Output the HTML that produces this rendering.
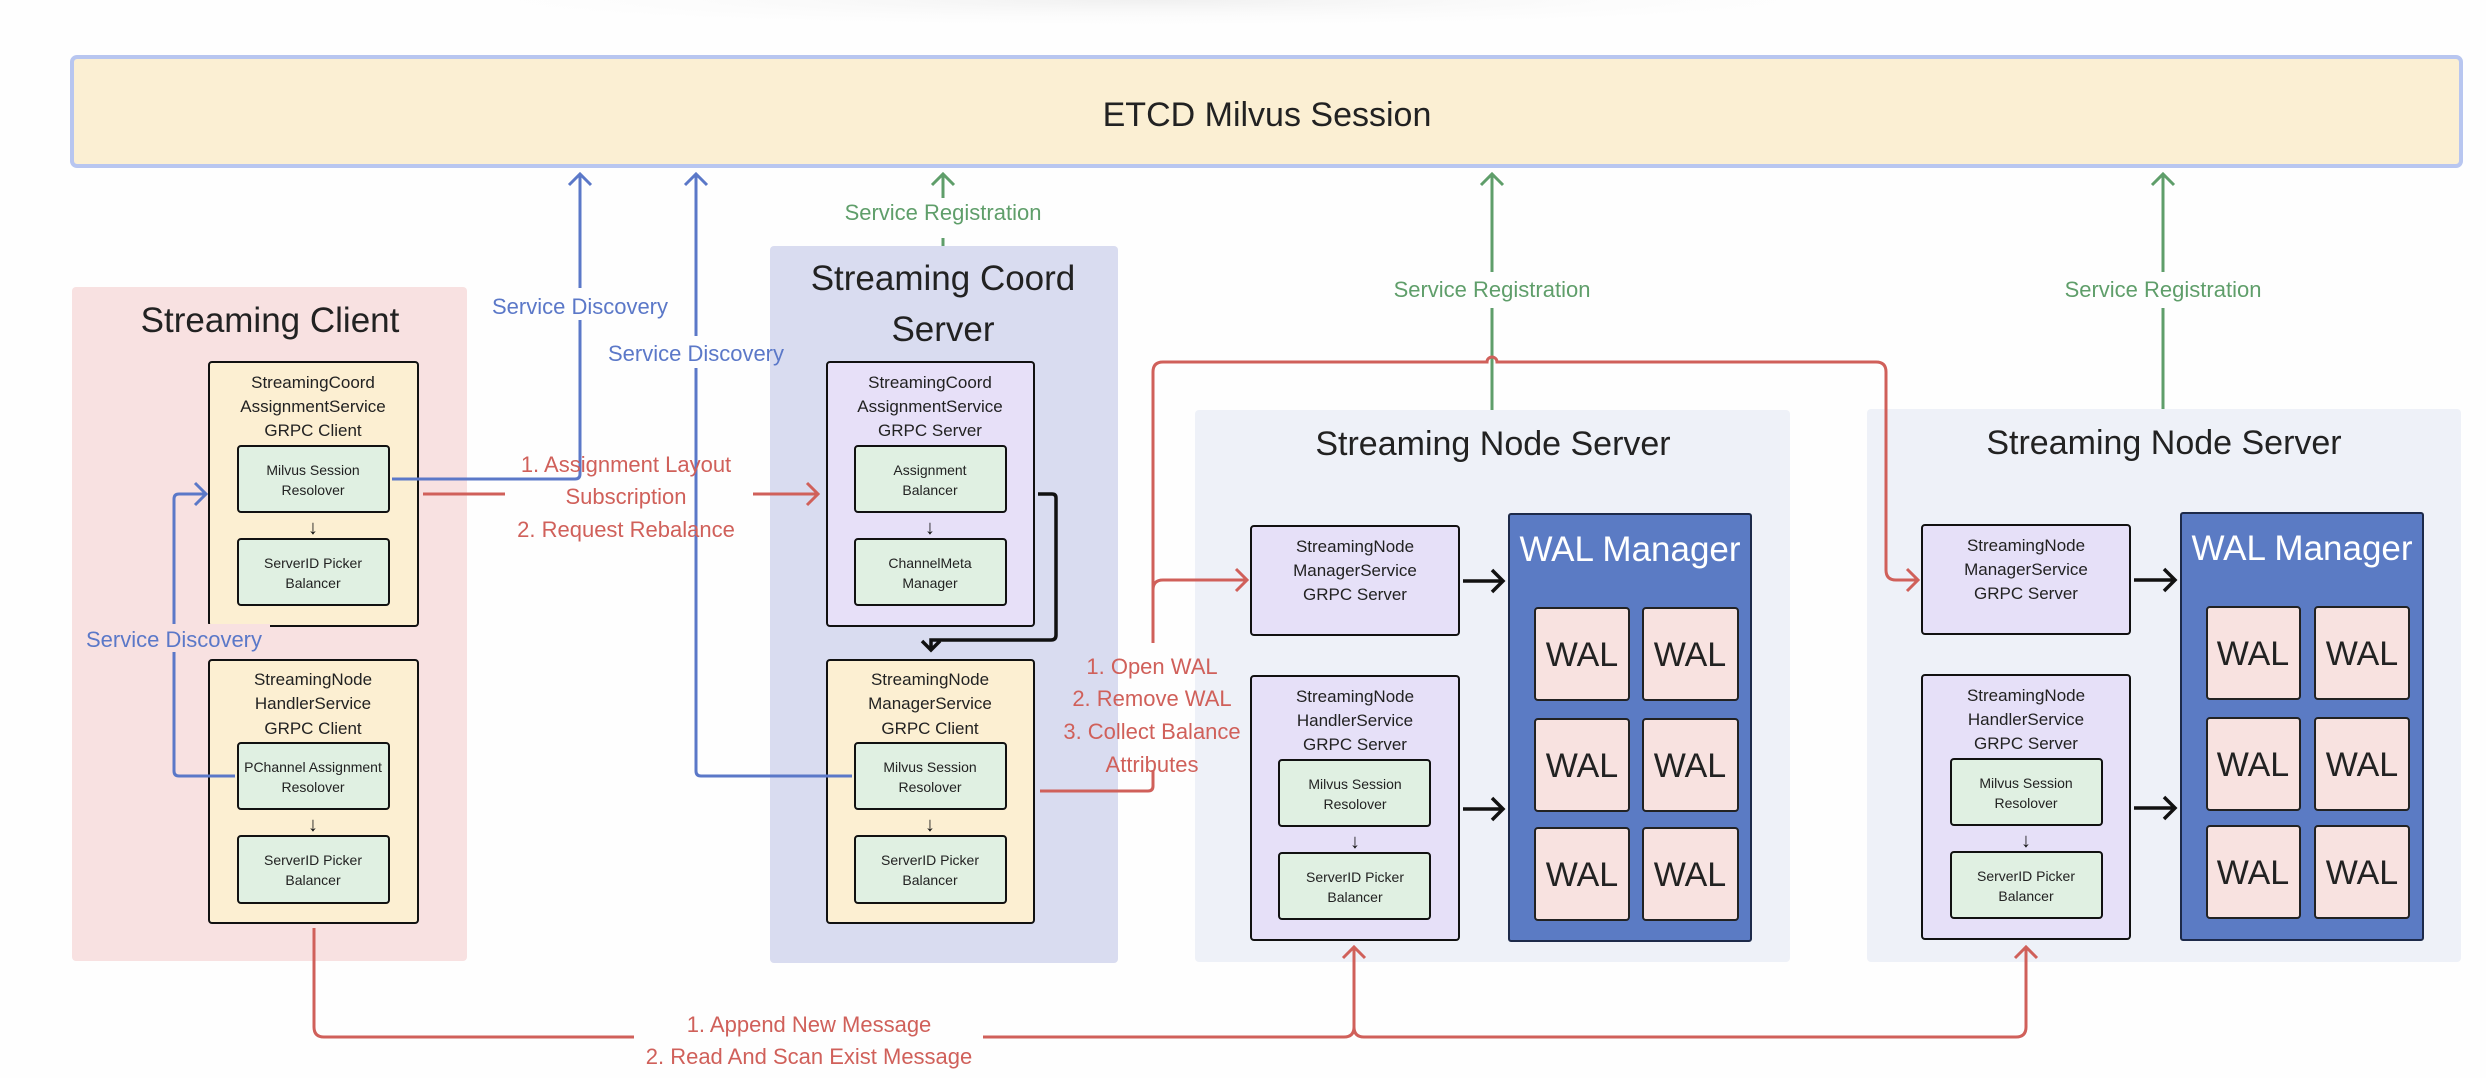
<!DOCTYPE html>
<html><head><meta charset="utf-8"><style>
html,body{margin:0;padding:0;background:#fefefe;}
svg{display:block}
text{font-family:"Liberation Sans",sans-serif;}
</style></head><body>
<svg width="2486" height="1078" viewBox="0 0 2486 1078" xmlns="http://www.w3.org/2000/svg">
<defs>
<radialGradient id="sh" cx="0.5" cy="0" r="0.6"><stop offset="0" stop-color="#f0f0f0"/><stop offset="1" stop-color="#fefefe" stop-opacity="0"/></radialGradient>
</defs>
<rect x="500" y="0" width="1300" height="50" fill="url(#sh)"/>
<!-- ETCD -->
<rect x="72" y="57" width="2389" height="109" rx="5" fill="#fbefd3" stroke="#b8c6f0" stroke-width="4"/>
<text x="1267" y="126" font-size="34" text-anchor="middle" fill="#222">ETCD Milvus Session</text>

<!-- containers -->
<rect x="72" y="287" width="395" height="674" rx="4" fill="#f8e1e1"/>
<text x="270" y="332" font-size="35" text-anchor="middle" fill="#222">Streaming Client</text>
<rect x="770" y="246" width="348" height="717" rx="4" fill="#d9dcf0"/>
<text x="943" y="290" font-size="35" text-anchor="middle" fill="#222">Streaming Coord</text>
<text x="943" y="341" font-size="35" text-anchor="middle" fill="#222">Server</text>
<rect x="1195" y="410" width="595" height="552" rx="4" fill="#eef1f8"/>
<text x="1493" y="455" font-size="34" text-anchor="middle" fill="#222">Streaming Node Server</text>
<rect x="1867" y="409" width="594" height="553" rx="4" fill="#eef1f8"/>
<text x="2164" y="454" font-size="34" text-anchor="middle" fill="#222">Streaming Node Server</text>

<g font-size="17" text-anchor="middle" fill="#222">
<rect x="209" y="362" width="209" height="264" rx="3" fill="#fcefd2" stroke="#111" stroke-width="2"/>
<text x="313" y="388">StreamingCoord</text><text x="313" y="412">AssignmentService</text><text x="313" y="436">GRPC Client</text>
<rect x="209" y="660" width="209" height="263" rx="3" fill="#fcefd2" stroke="#111" stroke-width="2"/>
<text x="313" y="685">StreamingNode</text><text x="313" y="709">HandlerService</text><text x="313" y="734">GRPC Client</text>
<rect x="827" y="362" width="207" height="264" rx="3" fill="#e7e0f8" stroke="#111" stroke-width="2"/>
<text x="930" y="388">StreamingCoord</text><text x="930" y="412">AssignmentService</text><text x="930" y="436">GRPC Server</text>
<rect x="827" y="660" width="207" height="263" rx="3" fill="#fcefd2" stroke="#111" stroke-width="2"/>
<text x="930" y="685">StreamingNode</text><text x="930" y="709">ManagerService</text><text x="930" y="734">GRPC Client</text>
<rect x="1251" y="526" width="208" height="109" rx="3" fill="#e6e0f8" stroke="#111" stroke-width="2"/>
<text x="1355" y="552">StreamingNode</text><text x="1355" y="576">ManagerService</text><text x="1355" y="600">GRPC Server</text>
<rect x="1251" y="676" width="208" height="264" rx="3" fill="#e6e0f8" stroke="#111" stroke-width="2"/>
<text x="1355" y="702">StreamingNode</text><text x="1355" y="726">HandlerService</text><text x="1355" y="750">GRPC Server</text>
<rect x="1922" y="525" width="208" height="109" rx="3" fill="#e6e0f8" stroke="#111" stroke-width="2"/>
<text x="2026" y="551">StreamingNode</text><text x="2026" y="575">ManagerService</text><text x="2026" y="599">GRPC Server</text>
<rect x="1922" y="675" width="208" height="264" rx="3" fill="#e6e0f8" stroke="#111" stroke-width="2"/>
<text x="2026" y="701">StreamingNode</text><text x="2026" y="725">HandlerService</text><text x="2026" y="749">GRPC Server</text>
</g>

<g font-size="14" text-anchor="middle" fill="#222">
<rect x="238" y="446" width="151" height="66" rx="3" fill="#e0f0e2" stroke="#111" stroke-width="2"/><text x="313" y="475">Milvus Session</text><text x="313" y="495">Resolover</text>
<rect x="238" y="539" width="151" height="66" rx="3" fill="#e0f0e2" stroke="#111" stroke-width="2"/><text x="313" y="568">ServerID Picker</text><text x="313" y="588">Balancer</text>
<rect x="238" y="743" width="151" height="66" rx="3" fill="#e0f0e2" stroke="#111" stroke-width="2"/><text x="313" y="772">PChannel Assignment</text><text x="313" y="792">Resolover</text>
<rect x="238" y="836" width="151" height="67" rx="3" fill="#e0f0e2" stroke="#111" stroke-width="2"/><text x="313" y="865">ServerID Picker</text><text x="313" y="885">Balancer</text>
<rect x="855" y="446" width="151" height="66" rx="3" fill="#e0f0e2" stroke="#111" stroke-width="2"/><text x="930" y="475">Assignment</text><text x="930" y="495">Balancer</text>
<rect x="855" y="539" width="151" height="66" rx="3" fill="#e0f0e2" stroke="#111" stroke-width="2"/><text x="930" y="568">ChannelMeta</text><text x="930" y="588">Manager</text>
<rect x="855" y="743" width="151" height="66" rx="3" fill="#e0f0e2" stroke="#111" stroke-width="2"/><text x="930" y="772">Milvus Session</text><text x="930" y="792">Resolover</text>
<rect x="855" y="836" width="151" height="67" rx="3" fill="#e0f0e2" stroke="#111" stroke-width="2"/><text x="930" y="865">ServerID Picker</text><text x="930" y="885">Balancer</text>
<rect x="1279" y="760" width="151" height="66" rx="3" fill="#e0f0e2" stroke="#111" stroke-width="2"/><text x="1355" y="789">Milvus Session</text><text x="1355" y="809">Resolover</text>
<rect x="1279" y="853" width="151" height="66" rx="3" fill="#e0f0e2" stroke="#111" stroke-width="2"/><text x="1355" y="882">ServerID Picker</text><text x="1355" y="902">Balancer</text>
<rect x="1951" y="759" width="151" height="66" rx="3" fill="#e0f0e2" stroke="#111" stroke-width="2"/><text x="2026" y="788">Milvus Session</text><text x="2026" y="808">Resolover</text>
<rect x="1951" y="852" width="151" height="66" rx="3" fill="#e0f0e2" stroke="#111" stroke-width="2"/><text x="2026" y="881">ServerID Picker</text><text x="2026" y="901">Balancer</text>
</g>
<g font-size="20" text-anchor="middle" fill="#111">
<text x="313" y="534">↓</text><text x="313" y="831">↓</text><text x="930" y="534">↓</text><text x="930" y="831">↓</text><text x="1355" y="848">↓</text><text x="2026" y="847">↓</text>
</g>

<rect x="1509" y="514" width="242" height="427" rx="2" fill="#5b7bc4" stroke="#1d2a4a" stroke-width="2"/>
<text x="1630" y="561" font-size="35" text-anchor="middle" fill="#fff">WAL Manager</text>
<rect x="2181" y="513" width="242" height="427" rx="2" fill="#5b7bc4" stroke="#1d2a4a" stroke-width="2"/>
<text x="2302" y="560" font-size="35" text-anchor="middle" fill="#fff">WAL Manager</text>
<g font-size="34" text-anchor="middle" fill="#222" stroke-width="2">
<rect x="1535" y="608" width="94" height="92" rx="3" fill="#f8e2e0" stroke="#222"/><text x="1582" y="666">WAL</text>
<rect x="1643" y="608" width="95" height="92" rx="3" fill="#f8e2e0" stroke="#222"/><text x="1690" y="666">WAL</text>
<rect x="1535" y="719" width="94" height="92" rx="3" fill="#f8e2e0" stroke="#222"/><text x="1582" y="777">WAL</text>
<rect x="1643" y="719" width="95" height="92" rx="3" fill="#f8e2e0" stroke="#222"/><text x="1690" y="777">WAL</text>
<rect x="1535" y="828" width="94" height="92" rx="3" fill="#f8e2e0" stroke="#222"/><text x="1582" y="886">WAL</text>
<rect x="1643" y="828" width="95" height="92" rx="3" fill="#f8e2e0" stroke="#222"/><text x="1690" y="886">WAL</text>
<rect x="2207" y="607" width="93" height="92" rx="3" fill="#f8e2e0" stroke="#222"/><text x="2253" y="665">WAL</text>
<rect x="2315" y="607" width="94" height="92" rx="3" fill="#f8e2e0" stroke="#222"/><text x="2362" y="665">WAL</text>
<rect x="2207" y="718" width="93" height="92" rx="3" fill="#f8e2e0" stroke="#222"/><text x="2253" y="776">WAL</text>
<rect x="2315" y="718" width="94" height="92" rx="3" fill="#f8e2e0" stroke="#222"/><text x="2362" y="776">WAL</text>
<rect x="2207" y="826" width="93" height="92" rx="3" fill="#f8e2e0" stroke="#222"/><text x="2253" y="884">WAL</text>
<rect x="2315" y="826" width="94" height="92" rx="3" fill="#f8e2e0" stroke="#222"/><text x="2362" y="884">WAL</text>
</g>

<g fill="none" stroke="#111" stroke-width="3.5">
<path d="M1463 581H1503M1492 570L1503 581L1492 592"/>
<path d="M1463 809H1503M1492 798L1503 809L1492 820"/>
<path d="M2134 580H2175M2164 569L2175 580L2164 591"/>
<path d="M2134 808H2175M2164 797L2175 808L2164 819"/>
<path d="M1038 494H1052Q1056 494 1056 498V635Q1056 640 1051 640H931V650M922 641L931 650L940 641"/>
</g>

<g fill="none" stroke="#5b78c8" stroke-width="3">
<path d="M392 479H575Q580 479 580 474V320M580 288V174M569 185L580 174L591 185"/>
<path d="M852 776H701Q696 776 696 771V368M696 336V174M685 185L696 174L707 185"/>
<path d="M235 776H179Q174 776 174 771V499Q174 494 179 494H204M195 483L206 494L195 505"/>
</g>
<g font-size="22" fill="#5b78c8" text-anchor="middle">
<text x="580" y="314">Service Discovery</text>
<text x="696" y="361">Service Discovery</text>
<rect x="80" y="624" width="190" height="28" fill="#f8e1e1"/>
<text x="174" y="647">Service Discovery</text>
</g>

<g fill="none" stroke="#5f9e6a" stroke-width="3">
<path d="M943 246V238M943 198V174M932 185L943 174L954 185"/>
<path d="M1492 410V308M1492 272V174M1481 185L1492 174L1503 185"/>
<path d="M2163 409V308M2163 272V174M2152 185L2163 174L2174 185"/>
</g>
<g font-size="22" fill="#5f9e6a" text-anchor="middle">
<text x="943" y="220">Service Registration</text>
<text x="1492" y="297">Service Registration</text>
<text x="2163" y="297">Service Registration</text>
</g>

<g fill="none" stroke="#d0605a" stroke-width="3">
<path d="M423 494H505M753 494H818M807 483L818 494L807 505"/>
<path d="M1040 791H1148Q1153 791 1153 786V770M1153 643V372Q1153 362 1163 362H1487A5 5 0 0 1 1497 362H1876Q1886 362 1886 372V570Q1886 580 1896 580H1918M1907 569L1918 580L1907 591"/>
<path d="M1153 590Q1153 580 1163 580H1247M1236 569L1247 580L1236 591"/>
<path d="M314 928V1027Q314 1037 324 1037H634M983 1037H1344Q1354 1037 1354 1027V947M1343 958L1354 947L1365 958M1354 1027Q1354 1037 1364 1037H2016Q2026 1037 2026 1027V947M2015 958L2026 947L2037 958"/>
</g>
<g font-size="22" fill="#d0605a" text-anchor="middle">
<text x="626" y="472">1. Assignment Layout</text>
<text x="626" y="504">Subscription</text>
<text x="626" y="537">2. Request Rebalance</text>
<text x="1152" y="674">1. Open WAL</text>
<text x="1152" y="706">2. Remove WAL</text>
<text x="1152" y="739">3. Collect Balance</text>
<text x="1152" y="772">Attributes</text>
<text x="809" y="1032">1. Append New Message</text>
<text x="809" y="1064">2. Read And Scan Exist Message</text>
</g>
</svg>
</body></html>
